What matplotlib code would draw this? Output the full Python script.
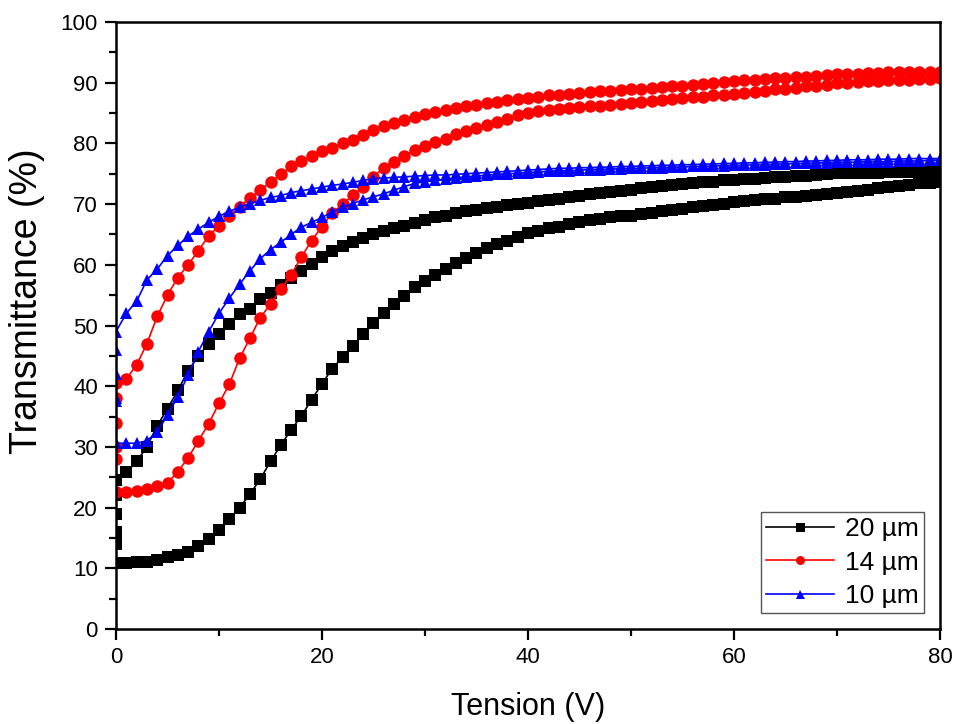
import numpy as np
import matplotlib
matplotlib.use("Agg")
import matplotlib.pyplot as plt
from matplotlib.ticker import MultipleLocator

plt.rcParams['font.family'] = ['Liberation Sans', 'DejaVu Sans']

# Applied voltage, 1 V steps (same grid for every branch)
volts = list(range(0, 81))

# 20 um cell: rising sweep, falling sweep, relaxation at 0 V
t20_up = [10.9, 10.9, 11.0, 11.1, 11.4, 11.8, 12.2, 12.7, 13.6, 14.9,
          16.3, 18.1, 20.0, 22.2, 24.7, 27.6, 30.3, 32.8, 35.1, 37.8,
          40.4, 42.9, 44.8, 46.7, 48.6, 50.4, 52.1, 53.5, 54.9, 56.3,
          57.4, 58.4, 59.3, 60.3, 61.2, 62.0, 62.8, 63.5, 64.0, 64.5,
          65.2, 65.6, 66.0, 66.3, 66.7, 67.0, 67.3, 67.6, 67.8, 68.0,
          68.1, 68.3, 68.5, 68.8, 69.0, 69.2, 69.5, 69.7, 69.9, 70.1,
          70.3, 70.5, 70.7, 70.8, 70.9, 71.1, 71.2, 71.4, 71.5, 71.6,
          71.8, 72.0, 72.2, 72.4, 72.6, 72.8, 73.0, 73.2, 73.4, 73.5, 73.7]
t20_down = [24.5, 25.8, 27.6, 30.0, 33.5, 36.3, 39.3, 42.5, 45.0, 47.0,
            48.6, 50.2, 51.9, 52.8, 54.3, 55.4, 56.7, 57.8, 58.9, 60.2,
            61.3, 62.3, 63.1, 63.7, 64.4, 65.1, 65.5, 66.0, 66.4, 66.9,
            67.4, 67.8, 68.1, 68.5, 68.8, 69.1, 69.4, 69.6, 69.8, 70.0,
            70.2, 70.5, 70.7, 70.9, 71.1, 71.4, 71.6, 71.8, 72.0, 72.2,
            72.4, 72.6, 72.8, 73.0, 73.1, 73.3, 73.5, 73.6, 73.7, 73.9,
            74.0, 74.1, 74.2, 74.3, 74.4, 74.5, 74.6, 74.7, 74.8, 75.0,
            75.1, 75.1, 75.2, 75.2, 75.2, 75.3, 75.3, 75.3, 75.3, 75.3, 75.3]
t20_relax = [22.0, 19.0, 16.0, 14.0]

# 14 um cell
t14_up = [22.6, 22.6, 22.7, 23.0, 23.5, 24.1, 25.9, 28.2, 31.0, 33.8,
          37.2, 40.3, 44.6, 47.9, 51.3, 53.5, 56.0, 58.3, 61.3, 64.0,
          66.3, 68.5, 70.0, 71.5, 72.8, 74.5, 76.0, 77.0, 78.0, 78.9,
          79.5, 80.2, 80.8, 81.5, 82.0, 82.6, 83.1, 83.6, 84.1, 84.6,
          85.0, 85.3, 85.5, 85.7, 85.8, 86.0, 86.1, 86.2, 86.4, 86.5,
          86.7, 86.8, 87.0, 87.1, 87.3, 87.4, 87.6, 87.7, 87.9, 88.0,
          88.2, 88.3, 88.5, 88.7, 88.9, 89.0, 89.2, 89.4, 89.5, 89.7,
          89.9, 90.0, 90.1, 90.2, 90.3, 90.4, 90.4, 90.5, 90.6, 90.6, 90.7]
t14_down = [40.5, 41.2, 43.5, 47.0, 51.5, 55.0, 57.9, 60.0, 62.3, 64.8,
            66.4, 68.0, 69.6, 71.0, 72.3, 73.7, 74.9, 76.2, 77.1, 77.9,
            78.7, 79.3, 80.0, 80.6, 81.4, 82.2, 82.9, 83.4, 83.9, 84.4,
            84.9, 85.2, 85.5, 85.8, 86.1, 86.4, 86.7, 86.9, 87.1, 87.3,
            87.5, 87.7, 87.9, 88.0, 88.2, 88.3, 88.5, 88.6, 88.7, 88.8,
            88.9, 89.0, 89.1, 89.3, 89.4, 89.5, 89.7, 89.8, 90.0, 90.1,
            90.3, 90.4, 90.5, 90.6, 90.7, 90.8, 90.9, 91.0, 91.1, 91.3,
            91.4, 91.5, 91.5, 91.6, 91.6, 91.7, 91.7, 91.8, 91.8, 91.8, 91.8]
t14_relax = [38.0, 34.0, 30.0, 28.0]

# 10 um cell
t10_up = [30.6, 30.6, 30.6, 31.0, 32.5, 35.2, 38.3, 41.8, 45.7, 49.0,
          52.0, 54.5, 56.8, 59.0, 61.0, 62.5, 63.7, 65.0, 66.2, 67.0,
          67.8, 68.7, 69.5, 70.1, 70.7, 71.2, 71.7, 72.3, 72.9, 73.4,
          73.7, 73.9, 74.1, 74.3, 74.5, 74.6, 74.8, 74.9, 75.0, 75.1,
          75.2, 75.3, 75.4, 75.5, 75.5, 75.6, 75.7, 75.7, 75.8, 75.8,
          75.9, 75.9, 76.0, 76.0, 76.1, 76.1, 76.2, 76.2, 76.3, 76.3,
          76.4, 76.4, 76.5, 76.5, 76.6, 76.6, 76.7, 76.7, 76.8, 76.8,
          76.9, 76.9, 76.9, 77.0, 77.0, 77.0, 77.1, 77.1, 77.1, 77.2, 77.2]
t10_down = [49.0, 52.0, 54.0, 57.5, 59.3, 61.5, 63.2, 64.7, 65.9, 67.0,
            68.0, 68.8, 69.5, 70.1, 70.6, 71.1, 71.4, 71.9, 72.2, 72.5,
            72.8, 73.1, 73.3, 73.6, 73.9, 74.2, 74.3, 74.4, 74.5, 74.6,
            74.7, 74.8, 74.8, 74.9, 75.0, 75.1, 75.2, 75.3, 75.4, 75.5,
            75.6, 75.7, 75.8, 75.9, 75.9, 76.0, 76.0, 76.1, 76.1, 76.2,
            76.2, 76.3, 76.3, 76.4, 76.4, 76.5, 76.5, 76.6, 76.6, 76.7,
            76.7, 76.8, 76.8, 76.9, 76.9, 77.0, 77.0, 77.1, 77.1, 77.2,
            77.2, 77.3, 77.3, 77.3, 77.4, 77.4, 77.4, 77.5, 77.5, 77.5, 77.5]
t10_relax = [46.0, 42.0, 38.0, 37.5]

labels = ['20 µm', '14 µm', '10 µm']
colors = ['black', 'red', 'blue']
markers = ['s', 'o', '^']


def loop(up, down, relax):
    # full sweep 0 -> 80 -> 0, then the drop at 0 V
    x = volts + volts[::-1] + [0] * len(relax)
    y = up + down[::-1] + relax
    return x, y


series = [loop(t20_up, t20_down, t20_relax),
          loop(t14_up, t14_down, t14_relax),
          loop(t10_up, t10_down, t10_relax)]

fig = plt.figure(figsize=(9.54, 7.24), dpi=100)
ax = fig.add_axes([0.1216, 0.1312, 0.8637, 0.8384])

for (x, y), lab, c, m in zip(series, labels, colors, markers):
    ax.plot(x, y, color=c, marker=m, markersize=9, linewidth=1.2,
            markeredgewidth=0, label=lab)

ax.set_xlim(0, 80)
ax.set_ylim(0, 100)
ax.xaxis.set_major_locator(MultipleLocator(20))
ax.xaxis.set_minor_locator(MultipleLocator(10))
ax.yaxis.set_major_locator(MultipleLocator(10))
ax.yaxis.set_minor_locator(MultipleLocator(5))
ax.tick_params(which='major', direction='out', length=8, width=1.6,
               labelsize=16, pad=5)
ax.tick_params(which='minor', direction='out', length=5, width=1.6)
for s in ax.spines.values():
    s.set_linewidth(1.8)

ax.set_xlabel('Tension (V)', fontsize=22, labelpad=17)
ax.set_ylabel('Transmittance (%)', fontsize=27)
ax.yaxis.set_label_coords(-0.086, 0.54)

leg = ax.legend(loc='lower right', fontsize=19, frameon=True, fancybox=False,
                edgecolor='#555555', framealpha=1, handlelength=2.6,
                borderaxespad=0.6, labelspacing=0.35, handletextpad=0.4,
                borderpad=0.2, markerscale=0.72)
leg.get_frame().set_linewidth(1.0)

fig.savefig('out.png', dpi=100)
